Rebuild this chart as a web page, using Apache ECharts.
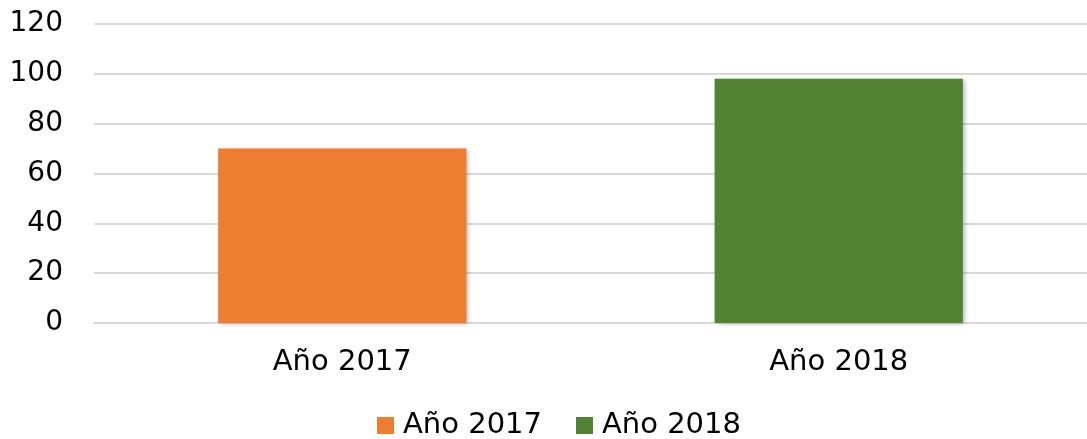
<!DOCTYPE html>
<html>
<head>
<meta charset="utf-8">
<script src="https://cdn.jsdelivr.net/npm/echarts@6/dist/echarts.min.js"></script>
<style>
  html, body { margin: 0; padding: 0; background: #fff; }
  #main { width: 1087px; height: 439px; }
</style>
</head>
<body>
<div id="main"></div>
<script>
const categories = ['Año 2017', 'Año 2018']
const serie2017 = [70, '-']
const serie2018 = ['-', 98]

const font = 'DejaVu Sans'
const barShadow = {
  shadowBlur: 5,
  shadowOffsetX: 2,
  shadowOffsetY: 1,
  shadowColor: 'rgba(0, 0, 0, 0.3)',
}

const option = {
  animation: false,
  grid: { left: 94, right: 0, top: 24, bottom: 116 },
  legend: {
    bottom: -6,
    left: 372,
    icon: 'rect',
    itemWidth: 17,
    itemHeight: 17,
    itemGap: 34,
    formatter: '{t|{name}}',
    textStyle: {
      fontFamily: font,
      fontSize: 29,
      color: '#000',
      rich: { t: { fontFamily: font, fontSize: 29, color: '#000', padding: [0, 0, 0, 4] } },
    },
    data: ['Año 2017', 'Año 2018'],
  },
  xAxis: {
    type: 'category',
    data: categories,
    axisLine: { lineStyle: { color: '#d9d9d9', width: 2 } },
    axisTick: { show: false },
    axisLabel: { fontFamily: font, fontSize: 29, color: '#000', margin: 25 },
  },
  yAxis: {
    type: 'value',
    min: 0,
    max: 120,
    interval: 20,
    axisLine: { show: false },
    axisTick: { show: false },
    splitLine: { lineStyle: { color: '#d9d9d9', width: 2 } },
    axisLabel: { fontFamily: font, fontSize: 28, color: '#000', margin: 31 },
  },
  series: [
    {
      name: 'Año 2017',
      type: 'bar',
      stack: 'total',
      barWidth: '50%',
      data: serie2017,
      itemStyle: { color: '#ED7D31', ...barShadow },
    },
    {
      name: 'Año 2018',
      type: 'bar',
      stack: 'total',
      barWidth: '50%',
      data: serie2018,
      itemStyle: { color: '#548235', ...barShadow },
    },
  ],
}

const myChart = echarts.init(document.getElementById('main'))
myChart.setOption(option)
</script>
</body>
</html>
